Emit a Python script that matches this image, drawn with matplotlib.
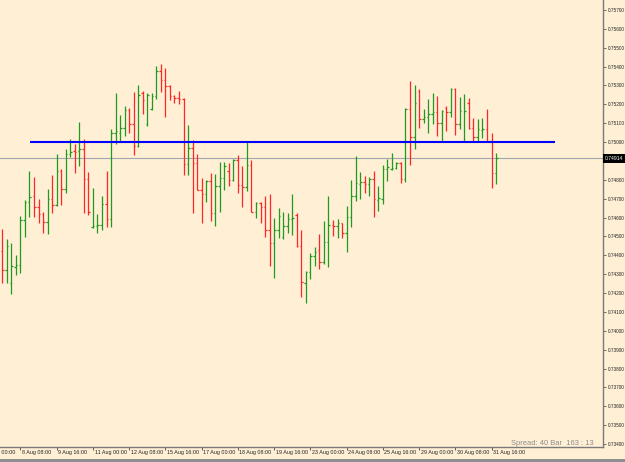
import matplotlib
matplotlib.use("Agg")
import matplotlib.pyplot as plt
import matplotlib.transforms as mtransforms
from matplotlib.patches import Rectangle

# ---------------- data (H4 OHLC, AUDUSD-like) ----------------
opens = [0.74423, 0.74320, 0.74252, 0.74336, 0.74347, 0.74585, 0.74681, 0.74713, 0.74654, 0.74619,
         0.74576, 0.74698, 0.74665, 0.74847, 0.74750, 0.74937, 0.74953, 0.74954, 0.74962, 0.74803,
         0.74551, 0.74555, 0.74559, 0.74670, 0.74591, 0.75047, 0.75047, 0.75073, 0.75170, 0.75094,
         0.74981, 0.75259, 0.75094, 0.75177, 0.75244, 0.75377, 0.75327, 0.75297, 0.75246, 0.75235,
         0.75230, 0.74884, 0.74967, 0.74888, 0.74746, 0.74723, 0.74794, 0.74623, 0.74769, 0.74808,
         0.74847, 0.74799, 0.74905, 0.74772, 0.74763, 0.74877, 0.74628, 0.74676, 0.74654, 0.74534,
         0.74464, 0.74534, 0.74498, 0.74555, 0.74591, 0.74612, 0.74449, 0.74252, 0.74313, 0.74396,
         0.74428, 0.74364, 0.74472, 0.74560, 0.74555, 0.74570, 0.74517, 0.74601, 0.74714, 0.74778,
         0.74788, 0.74778, 0.74803, 0.74693, 0.74697, 0.74857, 0.74857, 0.74861, 0.74891, 0.74803,
         0.75174, 0.75025, 0.75272, 0.75122, 0.75134, 0.75149, 0.75158, 0.75100, 0.75179, 0.75158,
         0.75281, 0.75094, 0.75006, 0.75206, 0.75073, 0.75028, 0.75064, 0.75071, 0.75007, 0.74838]
highs = [0.74539, 0.74485, 0.74464, 0.74401, 0.74608, 0.74693, 0.74847, 0.74816, 0.74697, 0.74629,
         0.74750, 0.74825, 0.74937, 0.74856, 0.74963, 0.75015, 0.74990, 0.75105, 0.75016, 0.74843,
         0.74755, 0.74617, 0.74714, 0.74847, 0.75068, 0.75260, 0.75143, 0.75190, 0.75179, 0.75267,
         0.75302, 0.75272, 0.75260, 0.75259, 0.75403, 0.75412, 0.75394, 0.75302, 0.75248, 0.75272,
         0.75232, 0.75089, 0.75011, 0.74937, 0.74810, 0.74799, 0.74835, 0.74829, 0.74893, 0.74893,
         0.74888, 0.74910, 0.74931, 0.74873, 0.74999, 0.74905, 0.74681, 0.74684, 0.74714, 0.74723,
         0.74596, 0.74649, 0.74628, 0.74623, 0.74725, 0.74626, 0.74534, 0.74317, 0.74411, 0.74442,
         0.74513, 0.74582, 0.74716, 0.74587, 0.74591, 0.74572, 0.74661, 0.74799, 0.74926, 0.74843,
         0.74820, 0.74813, 0.74847, 0.74767, 0.74878, 0.74909, 0.74941, 0.74893, 0.74893, 0.75179,
         0.75324, 0.75302, 0.75281, 0.75175, 0.75227, 0.75259, 0.75244, 0.75170, 0.75191, 0.75285,
         0.75285, 0.75240, 0.75253, 0.75235, 0.75126, 0.75121, 0.75129, 0.75175, 0.75047, 0.74941]
lows = [0.74252, 0.74252, 0.74195, 0.74297, 0.74308, 0.74498, 0.74601, 0.74601, 0.74570, 0.74520,
        0.74513, 0.74623, 0.74660, 0.74666, 0.74732, 0.74919, 0.74838, 0.74873, 0.74623, 0.74613,
        0.74543, 0.74517, 0.74534, 0.74551, 0.74551, 0.74990, 0.75002, 0.75032, 0.75050, 0.74931,
        0.74975, 0.75147, 0.75087, 0.75168, 0.75230, 0.75267, 0.75134, 0.75223, 0.75206, 0.75200,
        0.74825, 0.74825, 0.74623, 0.74746, 0.74570, 0.74681, 0.74583, 0.74555, 0.74631, 0.74746,
        0.74769, 0.74795, 0.74729, 0.74657, 0.74741, 0.74627, 0.74596, 0.74570, 0.74498, 0.74343,
        0.74281, 0.74490, 0.74486, 0.74517, 0.74507, 0.74442, 0.74180, 0.74149, 0.74273, 0.74343,
        0.74326, 0.74354, 0.74339, 0.74502, 0.74493, 0.74493, 0.74419, 0.74548, 0.74689, 0.74697,
        0.74729, 0.74714, 0.74601, 0.74635, 0.74672, 0.74795, 0.74852, 0.74857, 0.74782, 0.74790,
        0.74878, 0.74962, 0.75073, 0.75100, 0.75050, 0.75094, 0.75032, 0.75002, 0.75060, 0.75134,
        0.75037, 0.75068, 0.74999, 0.75070, 0.75007, 0.75002, 0.75020, 0.75002, 0.74755, 0.74776]
closes = [0.74320, 0.74448, 0.74342, 0.74347, 0.74585, 0.74681, 0.74707, 0.74654, 0.74619, 0.74576,
          0.74698, 0.74665, 0.74845, 0.74750, 0.74937, 0.74949, 0.74947, 0.74962, 0.74803, 0.74631,
          0.74555, 0.74559, 0.74670, 0.74591, 0.75047, 0.75059, 0.75073, 0.75170, 0.75094, 0.74981,
          0.75249, 0.75223, 0.75249, 0.75244, 0.75377, 0.75327, 0.75297, 0.75246, 0.75235, 0.75230,
          0.74884, 0.74967, 0.74888, 0.74748, 0.74723, 0.74794, 0.74623, 0.74769, 0.74808, 0.74873,
          0.74799, 0.74905, 0.74772, 0.74763, 0.74877, 0.74630, 0.74676, 0.74654, 0.74534, 0.74464,
          0.74534, 0.74608, 0.74555, 0.74591, 0.74598, 0.74449, 0.74257, 0.74313, 0.74396, 0.74419,
          0.74364, 0.74472, 0.74560, 0.74555, 0.74570, 0.74517, 0.74601, 0.74714, 0.74782, 0.74788,
          0.74778, 0.74803, 0.74697, 0.74704, 0.74857, 0.74866, 0.74861, 0.74891, 0.74803, 0.75174,
          0.75025, 0.75206, 0.75122, 0.75134, 0.75149, 0.75158, 0.75100, 0.75165, 0.75158, 0.75281,
          0.75094, 0.75165, 0.75165, 0.75073, 0.75028, 0.75068, 0.75071, 0.75007, 0.74838, 0.74914]

time_labels = ["5 Aug 00:00", "8 Aug 08:00", "9 Aug 16:00", "11 Aug 00:00", "12 Aug 08:00",
               "15 Aug 16:00", "17 Aug 00:00", "18 Aug 08:00", "19 Aug 16:00", "23 Aug 00:00",
               "24 Aug 08:00", "25 Aug 16:00", "29 Aug 00:00", "30 Aug 08:00", "31 Aug 16:00"]
first_label_bar = -4
bars_per_label = 8

level_price = 0.75000
level_start_bar = 6.1
level_end_bar = 122.0
current_price = 0.74914
price_ticks = [round(0.734 + 0.001 * k, 3) for k in range(24)]
info_text = "Spread: 40 Bar  163 : 13"

# ---------------- style ----------------
BG = "#FFEFD5"
UP = "#1f9a1f"
DOWN = "#ff2626"
FONT = ["Liberation Sans", "DejaVu Sans"]

W, H = 625, 462
fig = plt.figure(figsize=(W / 100, H / 100), dpi=100, facecolor=BG)
ax = fig.add_axes([0, 15 / H, 603 / W, 447 / H])
ax.set_facecolor(BG)

n = len(opens)
xs = list(range(n))
cols = [UP if c >= o else DOWN for o, c in zip(opens, closes)]
tick = 0.33
lw = 0.9
ax.vlines(xs, lows, highs, colors=cols, linewidth=lw, zorder=3)
ax.hlines(opens, [x - tick for x in xs], xs, colors=cols, linewidth=lw, zorder=3)
ax.hlines(closes, xs, [x + tick for x in xs], colors=cols, linewidth=lw, zorder=3)

# horizontal level and current price line
ax.hlines(level_price, level_start_bar, level_end_bar, colors="#0000ff", linewidth=1.5, zorder=4)
ax.axhline(current_price, color="#9ea7b0", linewidth=0.8, zorder=2)

ax.set_xlim(-0.51, 132.6)
ax.set_ylim(0.73384, 0.75753)

for s in ["top", "left"]:
    ax.spines[s].set_visible(False)
for s in ["right", "bottom"]:
    ax.spines[s].set_color("#7a7a7a")
    ax.spines[s].set_linewidth(1.0)

# y axis on the right
ax.yaxis.tick_right()
ax.set_yticks(price_ticks)
ax.set_yticklabels([f"{p:.5f}" for p in price_ticks])
ax.tick_params(axis="y", direction="out", length=2.5, width=0.6, color="#555555",
               pad=0.8, labelsize=3.45, labelcolor="#222222")
for lab in ax.get_yticklabels():
    lab.set_family(FONT)

# x axis: ticks and left-aligned labels
label_bars = [first_label_bar + bars_per_label * k for k in range(len(time_labels))]
ax.set_xticks([b for b in label_bars if b >= 0])
ax.set_xticklabels([])
ax.tick_params(axis="x", direction="out", length=2.5, width=0.6, color="#444444")
off = mtransforms.offset_copy(ax.get_xaxis_transform(), fig=fig, x=1.6, y=-3.0, units="dots")
for b, t in zip(label_bars, time_labels):
    ax.text(b, 0, t, transform=off, ha="left", va="top", fontsize=3.9,
            color="#222222", family=FONT, clip_on=False)

# current price box
poff = mtransforms.offset_copy(ax.get_yaxis_transform(), fig=fig, x=2.2, y=0, units="dots")
ax.text(1.0, current_price, f"{current_price:.5f}", transform=poff, ha="left", va="center",
        fontsize=3.6, color="white", family=FONT, zorder=10, clip_on=False,
        bbox=dict(boxstyle="square,pad=0.35", fc="black", ec="none"))

# info text
ax.text(0.985, 0.005, info_text, transform=ax.transAxes, ha="right", va="baseline",
        fontsize=5.4, color="#8c8c8c", family=FONT)

# bottom window edge
fig.patches.append(Rectangle((0, 0), 1, 3 / H, transform=fig.transFigure,
                             facecolor="#8f8f8f", edgecolor="none"))

fig.savefig("out.png", dpi=100, facecolor=BG)
